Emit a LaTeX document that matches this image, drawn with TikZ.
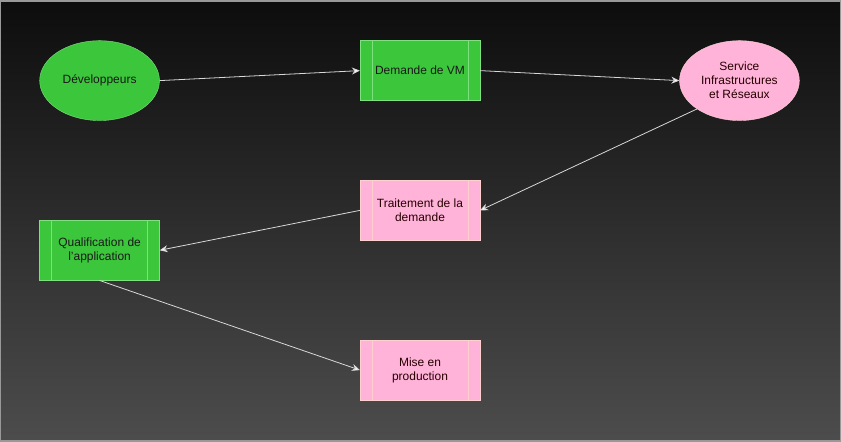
\documentclass[tikz,border=0pt]{standalone}
\usepackage{fontspec}
\setmainfont{Liberation Sans}
\usetikzlibrary{arrows.meta,shapes.geometric}
\definecolor{leafgreen}{HTML}{3CC63C}
\definecolor{leafedge}{HTML}{7EE07E}
\definecolor{softpink}{HTML}{FFB3D9}
\definecolor{pinkedge}{HTML}{FFD0D0}
\definecolor{wire}{HTML}{D8D8D8}

\begin{document}
\begin{tikzpicture}[x=1pt,y=1pt, font=\fontsize{12}{14}\selectfont,
    actor/.style={ellipse, minimum width=120pt, minimum height=80pt, inner sep=0pt, align=center},
    task/.style={rectangle, minimum width=120pt, minimum height=60pt, inner sep=0pt, align=center,
      path picture={
        \draw[#1] ([xshift=12pt]path picture bounding box.north west) -- ([xshift=12pt]path picture bounding box.south west);
        \draw[#1] ([xshift=-12pt]path picture bounding box.north east) -- ([xshift=-12pt]path picture bounding box.south east);}},
    greenish/.style={fill=leafgreen, draw=leafedge, text=black!90},
    pinkish/.style={fill=softpink, draw=pinkedge, text=black!85!red},
    flow/.style={draw=wire, line width=0.8pt, -{Stealth[length=8pt,width=7pt,fill=white]}}]
% background
\shade[top color=black!95, bottom color=black!70] (0,0) rectangle (841,-441);
\draw[black!40, line width=1.5pt] (0,0) rectangle (841,-441);
% nodes
\node[actor, greenish] (dev) at (99,-80) {Développeurs};
\node[task=leafedge, greenish] (vm) at (420,-70) {Demande de VM};
\node[actor, pinkish] (sir) at (740,-80) {Service\\Infrastructures\\et Réseaux};
\node[task=pinkedge, pinkish] (trt) at (420,-210) {Traitement de la\\demande};
\node[task=leafedge, greenish] (qual) at (99,-250) {Qualification de\\l'application};
\node[task=pinkedge, pinkish] (mep) at (420,-370) {Mise en\\production};
% connectors
\draw[flow] (dev.east) -- (vm.west);
\draw[flow] (vm.east) -- (sir.west);
\draw[flow] (sir.south west) -- (trt.east);
\draw[flow] (trt.west) -- (qual.east);
\draw[flow] (qual.south) -- (mep.west);
\end{tikzpicture}
\end{document}
